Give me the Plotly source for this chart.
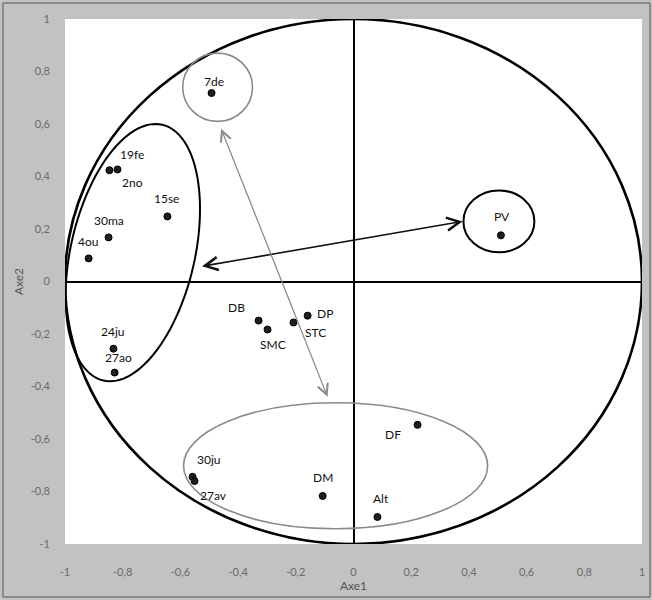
import numpy as np
import plotly.graph_objects as go

# ---- data ----
labels = ["7de", "19fe", "2no", "15se", "30ma", "4ou", "24ju", "27ao",
          "DB", "SMC", "STC", "DP", "DF", "30ju", "27av", "DM", "Alt", "PV"]
axe1 = [-0.492, -0.846, -0.818, -0.645, -0.849, -0.918, -0.832, -0.828,
        -0.329, -0.298, -0.208, -0.159, 0.222, -0.558, -0.551, -0.107, 0.083, 0.511]
axe2 = [0.718, 0.424, 0.427, 0.248, 0.168, 0.088, -0.256, -0.347,
        -0.149, -0.183, -0.156, -0.130, -0.546, -0.744, -0.760, -0.817, -0.897, 0.176]
# label offsets in pixels (dx right, dy up)
label_dx = [2, 23, 15, -1, 0, -1, 0, 4, -22, 5, 22, 17, -25, 16, 19, 0, 4, 1]
label_dy = [12, 16, -13, 18, 17, 17, 17, 15, 13, -15, -10, 2, -10, 17, -14, 18, 18, 19]

tick_vals = [-1, -0.8, -0.6, -0.4, -0.2, 0, 0.2, 0.4, 0.6, 0.8, 1]
tick_text = ["-1", "-0,8", "-0,6", "-0,4", "-0,2", "0", "0,2", "0,4", "0,6", "0,8", "1"]

# group outlines (centre x, centre y, radius x, radius y)
circle_7de = (-0.471, 0.740, 0.121, 0.130)
circle_pv = (0.504, 0.229, 0.123, 0.118)
ellipse_bottom = (-0.062, -0.702, 0.527, 0.240)
# tilted ellipse: centre (data), semi-axes (px), tilt (deg from vertical)
ellipse_left_center = (-0.765, 0.11)
ellipse_left_axes_px = (131, 62)
ellipse_left_tilt = 13
# arrows (start x, start y, end x, end y)
arrow_black = (-0.530, 0.057, 0.378, 0.229)
arrow_gray = (-0.461, 0.588, -0.090, -0.439)

PX_X = 288.5  # px per unit (x)
PX_Y = 262.0  # px per unit (y)

fig = go.Figure()

fig.add_trace(go.Scatter(
    x=axe1, y=axe2, mode="markers",
    marker=dict(color="#1e1e1e", size=7, line=dict(color="#000", width=1)),
    hoverinfo="text", text=labels, showlegend=False, cliponaxis=False))

annotations = []
for lab, xv, yv, dx, dy in zip(labels, axe1, axe2, label_dx, label_dy):
    annotations.append(dict(x=xv, y=yv, text=lab, showarrow=False,
                            xshift=dx, yshift=dy,
                            font=dict(family="Lato, Open Sans, sans-serif", size=12, color="#111")))

# arrows (double-headed)
for (x0, y0, x1, y1), col, w in [(arrow_black, "#111", 1.6), (arrow_gray, "#8a8a8a", 1.3)]:
    annotations.append(dict(x=x1, y=y1, ax=x0, ay=y0, xref="x", yref="y", axref="x", ayref="y",
                            showarrow=True, arrowhead=5, startarrowhead=5, arrowside="end+start",
                            arrowsize=1.6, startarrowsize=1.6, arrowwidth=w, arrowcolor=col, text=""))

shapes = []
# unit circle
shapes.append(dict(type="circle", xref="x", yref="y", x0=-1, x1=1, y0=-1, y1=1,
                   line=dict(color="#000", width=2.6)))
for (cx, cy, rx, ry), col, w in [(circle_7de, "#8a8a8a", 1.6),
                                  (circle_pv, "#000", 2),
                                  (ellipse_bottom, "#8a8a8a", 1.6)]:
    shapes.append(dict(type="circle", xref="x", yref="y", x0=cx - rx, x1=cx + rx,
                       y0=cy - ry, y1=cy + ry, line=dict(color=col, width=w)))

# tilted ellipse as a path
t = np.linspace(0, 2 * np.pi, 121)
a, b = ellipse_left_axes_px
th = np.radians(ellipse_left_tilt)
px = b * np.cos(t) * np.cos(th) + a * np.sin(t) * np.sin(th)
py = -b * np.cos(t) * np.sin(th) + a * np.sin(t) * np.cos(th)
ex = ellipse_left_center[0] + px / PX_X
ey = ellipse_left_center[1] + py / PX_Y
path = "M " + " L ".join(f"{xx:.4f},{yy:.4f}" for xx, yy in zip(ex, ey)) + " Z"
shapes.append(dict(type="path", xref="x", yref="y", path=path, line=dict(color="#000", width=2)))

# outer frame
shapes.append(dict(type="rect", xref="paper", yref="paper", x0=-0.1075, x1=1.0139,
                   y0=-0.101, y1=1.0305, line=dict(color="#555", width=1), layer="below"))

fig.update_layout(
    width=652, height=600,
    margin=dict(l=65, r=10, t=19, b=56, autoexpand=False),
    paper_bgcolor="#c2c2c2", plot_bgcolor="#ffffff",
    font=dict(family="Lato, Open Sans, sans-serif", size=11, color="#6a6a6a"),
    annotations=annotations, shapes=shapes,
    xaxis=dict(range=[-1, 1], tickvals=tick_vals, ticktext=tick_text, showgrid=False,
               zeroline=True, zerolinecolor="#000", zerolinewidth=2, showline=False,
               ticks="", ticklabelstandoff=20, fixedrange=True, automargin=False,
               title=dict(text="Axe1", standoff=4, font=dict(size=12, color="#555"))),
    yaxis=dict(range=[-1, 1], tickvals=tick_vals, ticktext=tick_text, showgrid=False,
               zeroline=True, zerolinecolor="#000", zerolinewidth=2, showline=False,
               ticks="", ticklabelstandoff=14, fixedrange=True, automargin=False,
               title=dict(text="Axe2", standoff=4, font=dict(size=12, color="#555"))),
    showlegend=False,
)

fig.write_html("out.html", config={"displayModeBar": False},
               post_script="document.body.style.margin='0';document.body.style.overflow='hidden';")
